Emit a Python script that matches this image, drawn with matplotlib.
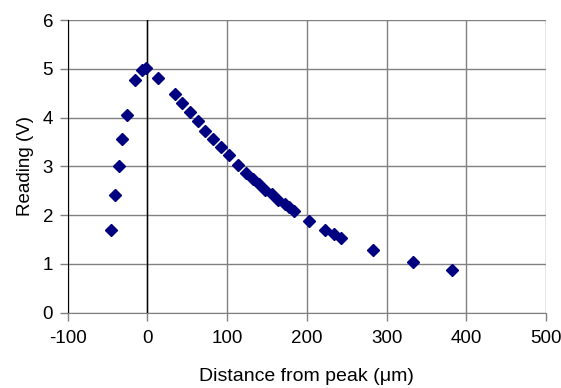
import matplotlib
matplotlib.use("Agg")
import matplotlib.pyplot as plt

plt.rcParams['font.family'] = ['Liberation Sans', 'DejaVu Sans']
plt.rcParams['axes.unicode_minus'] = False

distance = [-46, -41, -36, -32, -26, -16, -7, -2, 13, 34, 43, 53, 63, 72, 82,
            92, 102, 113, 124, 132, 140, 148, 156, 164, 173, 178, 184, 203,
            223, 234, 243, 283, 333, 382]
reading = [1.70, 2.42, 3.00, 3.56, 4.06, 4.77, 4.97, 5.01, 4.81, 4.49, 4.30,
           4.11, 3.93, 3.73, 3.57, 3.39, 3.23, 3.04, 2.87, 2.74, 2.63, 2.52,
           2.43, 2.32, 2.22, 2.16, 2.09, 1.89, 1.70, 1.61, 1.53, 1.29, 1.04,
           0.88]
xticks = [-100, 0, 100, 200, 300, 400, 500]
yticks = [0, 1, 2, 3, 4, 5, 6]

fig = plt.figure(figsize=(5.61, 3.88), dpi=100)
ax = fig.add_axes([0.1207, 0.194, 0.8526, 0.754])

ax.set_xlim(-100, 500)
ax.set_ylim(0, 6)
ax.set_xticks(xticks)
ax.set_yticks(yticks)
ax.grid(True, color='#808080', linewidth=1.0)
ax.set_axisbelow(True)
for s in ['top', 'right']:
    ax.spines[s].set_visible(False)
ax.spines['left'].set_color('black')
ax.spines['bottom'].set_color('#808080')
ax.axvline(0, color='black', linewidth=1.0, zorder=1)

ax.plot(distance, reading, linestyle='none', marker='D', markersize=6.3,
        color='#000080', markeredgecolor='#000080', zorder=3, clip_on=False)

ax.tick_params(axis='both', labelsize=13.5, length=5.5, width=1,
               color='#808080', direction='out')
ax.tick_params(axis='x', pad=7)
ax.tick_params(axis='y', pad=5)
ax.set_xlabel('Distance from peak (\u03bcm)', fontsize=14, labelpad=15)
ax.set_ylabel('Reading (V)', fontsize=13.5, labelpad=6)

fig.savefig('out.png', dpi=100)
